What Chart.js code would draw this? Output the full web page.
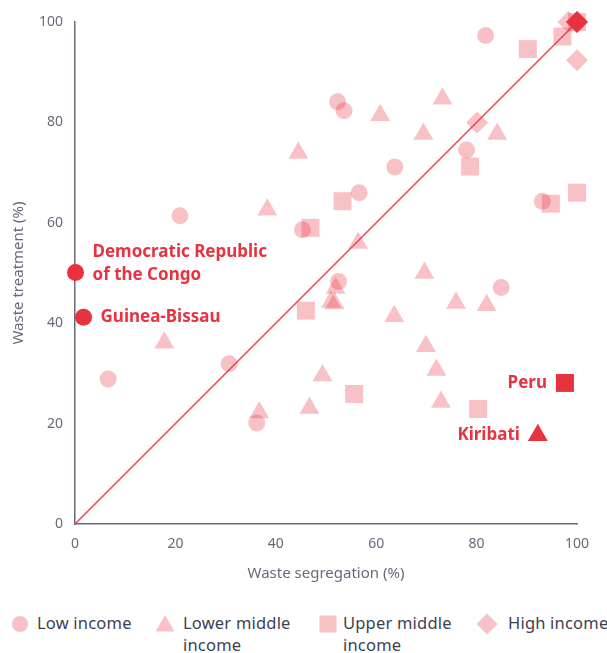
<!DOCTYPE html>
<html>
<head>
<meta charset="utf-8">
<title>Waste segregation vs treatment</title>
<script src="https://cdn.jsdelivr.net/npm/chart.js@4.4.1/dist/chart.umd.min.js"></script>
<style>
  body { margin: 0; background: #fff; font-family: 'Noto Sans', sans-serif; }
  #wrap { position: relative; width: 607px; height: 653px; }
  #chart { position: absolute; left: 0; top: 0; }
  .legText { position: absolute; top: 612px; font-size: 16.5px; line-height: 22px; color: #3c4152; letter-spacing: 0.2px; }
  .legSym { position: absolute; top: 610px; }
</style>
</head>
<body>
<div id="wrap">
  <canvas id="chart" width="607" height="595"></canvas>
</div>
<script>
// values: [waste segregation %, waste treatment %]
const lowIncome = [
  [81.8, 97.3], [52.3, 84.1], [53.6, 82.3], [78.0, 74.5], [63.7, 71.1], [56.6, 66.0], [93.1, 64.3],
  [20.9, 61.4], [45.3, 58.6], [52.5, 48.3], [84.9, 47.1], [6.6, 28.9], [30.7, 31.9], [36.2, 20.1]
]
const lowerMiddle = [
  [73.2, 84.7], [60.8, 81.4], [69.4, 77.7], [84.1, 77.7], [44.5, 73.9], [38.3, 62.6], [56.4, 56.0],
  [69.6, 50.0], [51.9, 47.0], [51.0, 44.2], [51.7, 43.9], [75.9, 44.0], [82.0, 43.6], [63.6, 41.4],
  [17.8, 36.1], [69.9, 35.4], [72.0, 30.7], [49.3, 29.6], [72.9, 24.3], [46.7, 23.1], [36.7, 22.2]
]
const upperMiddle = [
  [90.2, 94.6], [97.1, 97.1], [100, 100], [78.7, 71.2], [53.3, 64.3], [94.8, 63.8], [100, 66.0],
  [46.9, 59.0], [46.0, 42.5], [55.6, 25.9], [80.3, 22.9]
]
const highIncome = [
  [80.1, 80.0], [100, 92.4], [98.3, 100], [100, 100]
]

// highlighted countries
const highlightNames = [['Democratic Republic', 'of the Congo'], ['Guinea-Bissau'], ['Peru'], ['Kiribati'], []]
const highlightPoints = [[0.1, 50.1], [1.7, 41.2], [97.6, 28.1], [92.2, 17.7], [100, 100]]
const highlightStyles = ['circle', 'circle', 'rect', 'triangle', 'rectRot']

const groupNames = ['Low income', 'Lower middle income', 'Upper middle income', 'High income']
const groupStyles = ['circle', 'triangle', 'rect', 'rectRot']
const groupRadius = { circle: 8.5, triangle: 11.5, rect: 12.7, rectRot: 11 }

const red = '#e8323f'
const pale = 'rgba(232, 50, 63, 0.3)'
const axisGrey = '#666a79'

const toXY = (arr) => arr.map((p) => ({ x: p[0], y: p[1] }))

const groupData = [lowIncome, lowerMiddle, upperMiddle, highIncome]

const groupSets = groupData.map((arr, i) => ({
  label: groupNames[i],
  data: toXY(arr),
  pointStyle: groupStyles[i],
  pointRadius: groupRadius[groupStyles[i]],
  backgroundColor: pale,
  borderWidth: 0,
  clip: false,
  order: 2,
}))

// labels next to the highlighted points
const notePos = [
  { dx: 17, dy: -20, align: 'left' },
  { dx: 17, dy: 0, align: 'left' },
  { dx: -18, dy: 0, align: 'right' },
  { dx: -18, dy: 0, align: 'right' },
  { dx: 0, dy: 0, align: 'left' },
]

const notesPlugin = {
  id: 'notes',
  afterDatasetsDraw(chart) {
    const meta = chart.getDatasetMeta(0)
    const ctx = chart.ctx
    ctx.save()
    ctx.font = 'bold 17px "Noto Sans"'
    ctx.fillStyle = red
    ctx.textBaseline = 'middle'
    meta.data.forEach((pt, i) => {
      const lines = highlightNames[i]
      ctx.textAlign = notePos[i].align
      lines.forEach((line, j) => {
        ctx.fillText(line, pt.x + notePos[i].dx, pt.y + notePos[i].dy + j * 23)
      })
    })
    ctx.restore()
  }
}

new Chart(document.getElementById('chart'), {
  type: 'scatter',
  data: {
    datasets: [
      {
        label: 'highlight',
        data: toXY(highlightPoints),
        pointStyle: highlightStyles,
        pointRadius: highlightStyles.map((s) => groupRadius[s]),
        backgroundColor: red,
        borderWidth: 0,
        clip: false,
        order: 0,
      },
      {
        label: 'diagonal',
        data: [{ x: 0, y: 0 }, { x: 100, y: 100 }],
        showLine: true,
        borderColor: '#e8404c',
        borderWidth: 1.4,
        pointRadius: 0,
        clip: false,
        order: 1,
      },
      ...groupSets,
    ]
  },
  options: {
    responsive: false,
    animation: false,
    events: [],
    layout: { padding: { top: 22, right: 30, left: 0, bottom: 0 } },
    plugins: {
      legend: { display: false },
      tooltip: { enabled: false },
    },
    scales: {
      x: {
        min: 0,
        max: 100,
        afterFit: (scale) => { scale.height = 71 },
        grid: { display: false, drawTicks: false },
        border: { display: true, color: axisGrey, width: 1.5 },
        ticks: { stepSize: 20, padding: 12, color: axisGrey, font: { family: 'Noto Sans', size: 14 } },
        title: { display: true, text: 'Waste segregation (%)', color: axisGrey, padding: { top: 0, bottom: 12.5 }, font: { family: 'Noto Sans', size: 15 } },
      },
      y: {
        min: 0,
        max: 100,
        afterFit: (scale) => { scale.width = 75 },
        grid: { display: false, drawTicks: false },
        border: { display: true, color: axisGrey, width: 1.5 },
        ticks: { stepSize: 20, padding: 12, color: axisGrey, font: { family: 'Noto Sans', size: 14 } },
        title: { display: true, text: 'Waste treatment (%)', color: axisGrey, padding: { top: 9.5, bottom: 0 }, font: { family: 'Noto Sans', size: 15 } },
      },
    },
  },
  plugins: [notesPlugin],
})

// html legend under the chart
const legSymX = [20, 165, 328, 487]
const legTextX = [37, 183, 343, 508]
const legTextW = [110, 118, 118, 110]
const wrap = document.getElementById('wrap')
groupNames.forEach((name, i) => {
  const c = document.createElement('canvas')
  c.width = 28
  c.height = 28
  c.className = 'legSym'
  c.style.left = (legSymX[i] - 14) + 'px'
  const cx = c.getContext('2d')
  cx.fillStyle = pale
  const style = groupStyles[i]
  Chart.helpers.drawPoint(cx, { pointStyle: style, radius: groupRadius[style] * 0.95, rotation: 0, borderWidth: 0 }, 14, style === 'triangle' ? 16 : 14)
  wrap.appendChild(c)

  const t = document.createElement('div')
  t.className = 'legText'
  t.style.left = legTextX[i] + 'px'
  t.style.width = legTextW[i] + 'px'
  if (i === 3) t.style.whiteSpace = 'nowrap'
  t.textContent = name
  wrap.appendChild(t)
})
</script>
</body>
</html>
